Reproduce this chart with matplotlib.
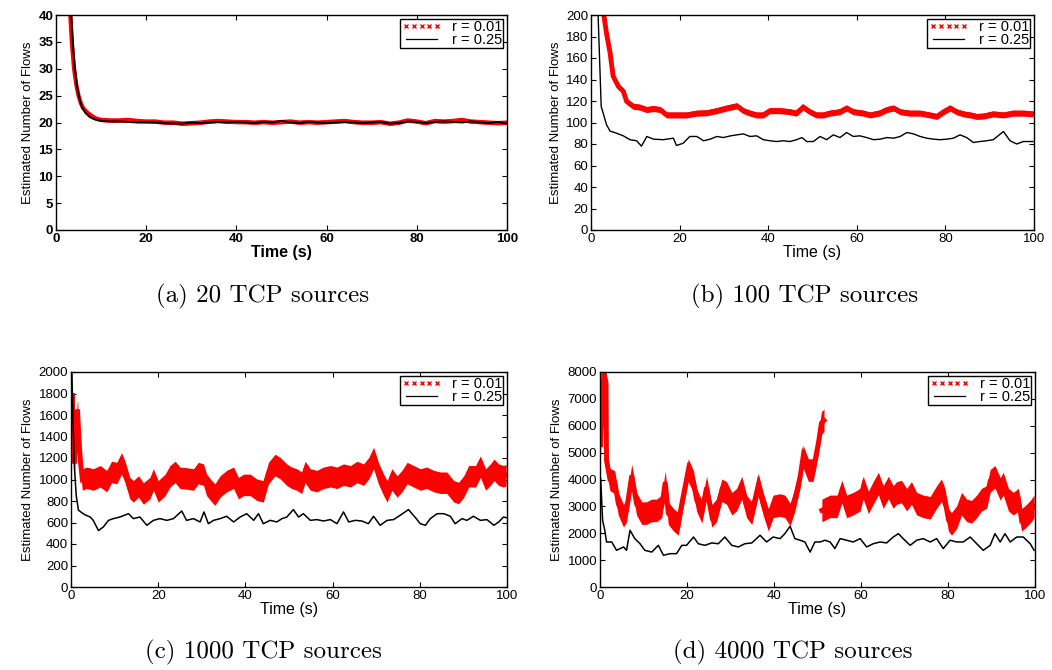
import matplotlib
matplotlib.use("Agg")
import matplotlib.pyplot as plt
import numpy as np
from matplotlib.lines import Line2D

# ---- (a) 20 TCP sources ----
A_RED_T = [3.2, 3.5, 4, 4.5, 5, 5.5, 6, 7, 8, 9, 10,
           12, 14, 16, 18, 20, 22, 24, 26, 28, 30, 32, 34, 36, 38, 40, 42, 44, 46, 48, 50,
           52, 54, 56, 58, 60, 62, 64, 66, 68, 70, 72, 74, 76, 78, 80, 82, 84, 86, 88, 90,
           92, 94, 96, 98, 100]
A_RED_Y = [39.5, 35, 30, 27, 25, 23.6, 22.7, 21.8, 21.2, 20.7, 20.5,
           20.4, 20.4, 20.5, 20.3, 20.2, 20.2, 20.0, 20.0, 19.8, 19.9, 20.0, 20.2, 20.3, 20.2, 20.1, 20.1, 20.0, 20.1, 20.0, 20.1,
           20.2, 20.0, 20.1, 20.0, 20.1, 20.2, 20.3, 20.1, 20.0, 20.0, 20.1, 19.8, 20.0, 20.4, 20.2, 19.9, 20.3, 20.2, 20.3, 20.5,
           20.2, 20.1, 20.0, 19.9, 20.0]
A_BLK_T = [3.4, 3.8, 4.2, 4.7, 5.2, 5.7, 6.5, 7.5, 8.5,
           10, 12, 14, 16, 18, 20, 22, 24, 26, 28, 30, 32, 34, 36, 38, 40, 42, 44, 46, 48, 50,
           52, 54, 56, 58, 60, 62, 64, 66, 68, 70, 72, 74, 76, 78, 80, 82, 84, 86, 88, 90,
           92, 94, 96, 98, 100]
A_BLK_Y = [40, 34, 30, 26.5, 24.5, 23, 21.8, 21.0, 20.6,
           20.3, 20.2, 20.2, 20.1, 20.0, 20.1, 20.0, 19.9, 19.8, 19.8, 20.0, 19.9, 20.0, 20.1, 20.0, 20.1, 20.0, 19.9, 20.1, 20.0, 20.3,
           20.0, 19.9, 20.1, 20.0, 19.9, 20.0, 20.1, 20.0, 19.9, 20.0, 20.1, 19.8, 19.9, 20.2, 20.1, 19.9, 20.1, 20.2, 20.1, 20.0,
           20.2, 20.0, 19.9, 20.1, 19.8]

# ---- (b) 100 TCP sources ----
B_RED_T = [2.9, 3.5, 4.3, 5.0, 6.2, 7.3, 8.05, 9.6, 11.0, 12.6, 14.1, 15.6, 17.1, 19.3, 21.6,
           23.9, 26.1, 28.4, 30.6, 32.9, 34.4, 35.9, 37.4, 38.9, 40.4, 42.7, 44.9, 46.4, 47.9, 49.4,
           50.9, 52.4, 53.9, 56.2, 57.7, 59.2, 61.5, 63.0, 65.3, 66.8, 68.3, 69.8, 72.0, 74.3, 76.5,
           78.1, 79.6, 81.1, 82.5, 84.1, 85.6, 87.1, 88.6, 90.8, 93.1, 95.3, 97.6, 99.8]
B_RED_Y = [200, 183, 165, 143, 133.5, 129, 119.6, 115, 114.3, 112, 113, 112, 107, 107, 107,
           108.7, 109, 111, 113.4, 115.5, 111, 108.7, 107, 107, 111, 111, 110, 108.7, 114.3, 110,
           107, 107, 108.7, 110, 113.4, 110, 108.7, 107, 109, 112, 113.4, 110, 108.7, 108.7, 107,
           105.6, 110, 113.4, 110, 108, 107, 105.6, 106, 108, 107, 108.7, 108.7, 108]
B_BLK_T = [1.6, 2.3, 3.5, 4.3, 5.8, 7.3, 8.8, 10.3, 11.4, 12.6, 14.1, 16.3, 18.6, 19.3, 20.8,
           22.3, 23.9, 25.4, 26.9, 28.4, 29.9, 31.4, 32.9, 34.4, 35.9, 37.4, 38.9, 40.4, 41.9, 43.4,
           44.9, 46.4, 47.6, 48.7, 50.2, 51.7, 53.2, 54.7, 56.2, 57.7, 59.2, 60.7, 62.2, 63.8, 65.3,
           66.8, 68.3, 69.8, 71.3, 72.8, 74.3, 75.8, 77.3, 78.8, 80.3, 81.8, 83.3, 84.8, 86.3, 87.8,
           89.3, 90.8, 93.1, 94.6, 96.1, 97.6, 99.8]
B_BLK_Y = [200, 115, 98, 92, 90, 87.6, 84, 83, 78, 87, 84.5, 84, 85.4, 78.6, 80.7,
           87, 87, 83, 84.5, 87, 86, 87.5, 88.5, 89.4, 87, 87.6, 84, 83, 82.3, 83,
           82.3, 84, 86, 82.3, 82.3, 87, 84, 88.5, 86, 90.7, 87, 87.6, 86, 84, 84.5,
           86, 85.4, 87, 90.7, 89.4, 87, 85.4, 84.5, 84, 84.5, 85.4, 88.5, 86, 81.4, 82.3,
           83, 84, 91.6, 83, 80, 82.3, 82.3]

# ---- (c) 1000 TCP sources ----
C_RED_T = [0.1, 0.3, 0.5, 0.8, 1.2, 1.5, 1.8, 2.2, 2.6, 3.6, 5.1, 6.7, 8.2, 9.3, 10.5,
           11.6, 12.4, 13.5, 14.3, 15.5, 16.6, 18.1, 18.9, 20.0, 21.6, 22.7, 23.9, 25.0, 26.5, 28.1,
           29.2, 30.4, 31.1, 32.3, 33.0, 34.2, 35.7, 37.3, 38.4, 39.6, 41.1, 42.6, 44.1, 45.3, 46.8,
           48.0, 49.5, 50.6, 51.8, 52.9, 53.7, 54.9, 56.4, 57.9, 59.5, 61.0, 62.5, 64.1, 65.6, 67.1,
           68.3, 69.4, 70.5, 71.7, 72.5, 73.6, 74.8, 75.9, 77.1, 78.6, 80.1, 81.6, 83.2, 84.7, 86.2,
           87.8, 88.9, 90.1, 91.2, 92.8, 93.9, 95.1, 96.2, 97.0, 98.1, 99.2, 99.8]
C_RED_Y = [1300, 1800, 1400, 1150, 1500, 1650, 1400, 1150, 1000, 1016, 1000, 1030, 985, 1070, 1060,
           1150, 1070, 920, 890, 935, 870, 920, 1000, 890, 950, 1030, 1070, 1016, 1010, 1000,
           1060, 1045, 950, 890, 860, 935, 985, 1016, 920, 950, 950, 905, 890, 1060, 1135,
           1105, 1045, 1016, 1000, 970, 1070, 1000, 985, 1016, 1030, 1016, 1045, 1030, 1070, 1045,
           1105, 1200, 1060, 950, 890, 1000, 935, 985, 1060, 1030, 1000, 1016, 985, 970, 970,
           890, 875, 935, 1030, 1030, 1120, 1000, 1045, 1090, 1045, 1030, 1040]
C_BLK_T = [0.2, 0.5, 0.8, 1.2, 1.7, 2.5, 3.3, 4.4, 5.1, 6.3, 7.4, 8.6, 9.7, 11.2, 13.2,
           14.3, 15.8, 17.4, 18.9, 20.4, 22.0, 23.5, 25.4, 26.5, 28.1, 29.6, 30.5, 31.5, 32.7, 34.2,
           35.7, 37.3, 38.8, 40.3, 41.9, 43.0, 44.1, 45.7, 47.2, 48.4, 49.5, 51.0, 52.2, 53.3, 54.9,
           56.4, 57.9, 59.5, 61.0, 62.5, 63.7, 65.2, 66.7, 68.2, 69.4, 70.9, 72.5, 74.0, 75.5, 77.4,
           79.0, 80.1, 81.3, 82.4, 84.0, 85.5, 87.0, 88.1, 89.7, 90.8, 92.3, 93.9, 95.4, 97.0, 98.1,
           99.2, 99.8]
C_BLK_Y = [2000, 1500, 1100, 850, 716, 690, 670, 651, 620, 525, 558, 620, 636, 651, 682,
           636, 651, 574, 620, 636, 620, 636, 707, 620, 636, 605, 698, 589, 620, 636,
           658, 605, 651, 682, 620, 682, 589, 620, 605, 636, 651, 720, 651, 682, 620,
           627, 614, 627, 589, 698, 605, 620, 614, 589, 658, 574, 620, 627, 667, 720,
           645, 589, 574, 636, 682, 682, 658, 589, 636, 620, 658, 620, 627, 574, 605,
           651, 645]

# ---- (d) 4000 TCP sources (red trace restarts near t = 51 s) ----
D_RED1_T = [0.15, 0.6, 0.9, 1.4, 1.5, 2.3, 3.4, 4.2, 5.4, 6.1, 7.3, 8.4, 9.6, 10.7, 11.9,
            13.0, 14.2, 15.0, 15.7, 16.9, 18.0, 18.8, 20.3, 21.5, 22.2, 23.4, 24.5, 25.7, 26.8, 28.0,
            29.1, 30.3, 31.4, 32.6, 33.7, 34.9, 36.4, 37.5, 38.7, 39.8, 41.4, 42.5, 43.7, 44.8, 46.0,
            46.7, 47.9, 49.0, 50.2, 50.9, 51.5]
D_RED1_Y = [5300, 7200, 7950, 7600, 4700, 4000, 3900, 3100, 2650, 2850, 4150, 3100, 2750, 2750, 2850,
            2850, 3000, 3900, 2750, 2500, 2350, 3100, 4350, 3900, 3250, 2800, 3700, 2650, 2850, 3600,
            3500, 3100, 3250, 3700, 3000, 2750, 3800, 3100, 2500, 3000, 3050, 3000, 2700, 3250, 4100,
            4850, 4350, 4350, 5350, 6100, 6200]
D_RED2_T = [51.0, 52.9, 54.5, 55.6, 56.7, 58.2, 59.8, 60.5, 61.7, 62.8, 64.0, 65.1, 66.3, 67.4, 68.2,
            69.3, 70.5, 71.6, 72.8, 74.3, 75.9, 77.4, 78.5, 79.3, 80.1, 80.8, 82.0, 83.1, 84.3, 85.4,
            86.6, 87.7, 88.9, 89.7, 90.8, 92.0, 92.7, 93.9, 95.0, 96.2, 96.9, 97.7, 98.9, 99.8]
D_RED2_Y = [2850, 3000, 3000, 3550, 3000, 3100, 3250, 3700, 3150, 3500, 3850, 3350, 3700, 3350, 3500,
            3550, 3250, 3500, 3100, 3000, 2950, 3350, 3600, 3250, 2500, 2350, 2600, 3100, 2850, 2800,
            3000, 3250, 3350, 3950, 4100, 3650, 3850, 3250, 3100, 3250, 2500, 2600, 2800, 3000]
D_BLK_T = [0.15, 0.6, 1.1, 1.5, 2.7, 3.8, 5.4, 6.1, 6.9, 8.0, 9.2, 10.3, 11.9, 13.4, 14.6,
           16.1, 17.6, 18.8, 19.9, 21.5, 22.6, 24.1, 25.7, 27.2, 28.7, 30.3, 31.8, 33.3, 34.9, 36.8,
           38.3, 39.8, 41.4, 42.5, 43.7, 44.8, 46.0, 47.1, 48.3, 49.4, 50.6, 51.7, 52.9, 54.0, 55.2,
           56.7, 58.2, 59.8, 61.3, 62.8, 64.4, 65.9, 67.4, 68.6, 69.7, 71.3, 72.8, 74.3, 75.9, 77.4,
           78.9, 80.5, 82.0, 83.5, 85.1, 86.6, 88.1, 89.7, 90.8, 92.0, 93.1, 94.3, 95.8, 97.3, 98.9,
           99.8]
D_BLK_Y = [4030, 2480, 2110, 1675, 1675, 1365, 1490, 1365, 2110, 1800, 1610, 1365, 1300, 1550, 1180,
           1240, 1240, 1550, 1550, 1860, 1610, 1550, 1640, 1610, 1860, 1550, 1490, 1610, 1640, 1925,
           1675, 1860, 1800, 1985, 2260, 1800, 1740, 1675, 1300, 1675, 1675, 1740, 1675, 1430, 1800,
           1740, 1675, 1800, 1490, 1610, 1675, 1640, 1860, 1985, 1800, 1550, 1740, 1800, 1675, 1800,
           1430, 1740, 1675, 1675, 1860, 1610, 1365, 1550, 1985, 1675, 1985, 1675, 1860, 1860, 1610,
           1365]

CAPTIONS = ["(a) 20 TCP sources", "(b) 100 TCP sources",
            "(c) 1000 TCP sources", "(d) 4000 TCP sources"]
LABELS = ["r = 0.01", "r = 0.25"]

RED = "#ff0000"
SANS = ["Liberation Sans", "DejaVu Sans"]


def draw_panel(ax, red_segs, blk, ymax, ystep, red_hw, red_lw, blk_lw, bold):
    weight = "bold" if bold else "normal"
    # red estimate: a noisy band of x markers in the original -> band + stroke
    for t, y in red_segs:
        y = np.asarray(y, dtype=float)
        if red_hw > 0:
            ax.fill_between(t, y - red_hw, y + red_hw, color=RED, linewidth=0, zorder=2)
        ax.plot(t, y, color=RED, linewidth=red_lw, solid_joinstyle="miter", zorder=2)
    ax.plot(blk[0], blk[1], color="black", linewidth=blk_lw, zorder=3)

    ax.set_xlim(0, 100)
    ax.set_ylim(0, ymax)
    ax.set_xticks(range(0, 101, 20))
    ax.set_yticks(range(0, ymax + 1, ystep))
    ax.tick_params(direction="in", top=True, right=True, length=3.5, width=0.8,
                   labelsize=9.5, pad=2)
    for lab in ax.get_xticklabels() + ax.get_yticklabels():
        lab.set_family(SANS)
        lab.set_fontweight(weight)
    for sp in ax.spines.values():
        sp.set_linewidth(1.0)

    ax.set_xlabel("Time (s)", family=SANS, fontsize=11.5, fontweight=weight, labelpad=0)
    ax.set_ylabel("Estimated Number of Flows", family=SANS, fontsize=9.5, labelpad=3)

    handles = [
        Line2D([], [], color=RED, marker="x", linestyle="None", markersize=3.4,
               markeredgewidth=1.0),
        Line2D([], [], color="black", linewidth=0.9),
    ]
    leg = ax.legend(handles, LABELS, loc="upper right", numpoints=5,
                    handlelength=2.7, handletextpad=0.7, borderpad=0.1,
                    labelspacing=-0.1, borderaxespad=0.25, fancybox=False,
                    framealpha=1, prop={"family": SANS, "size": 10.5})
    leg.get_frame().set_edgecolor("black")
    leg.get_frame().set_linewidth(1.0)


fig = plt.figure(figsize=(10.52, 6.70), dpi=100)
W, H = 1052, 670

# axes boxes in pixels: left, top, right, bottom
boxes = [(56, 15, 507, 230), (591, 15, 1034, 230),
         (71, 372, 507, 587), (600, 372, 1035, 587)]
axes = []
for l, t, r, b in boxes:
    axes.append(fig.add_axes([l / W, 1 - b / H, (r - l) / W, (b - t) / H]))

draw_panel(axes[0], [(A_RED_T, A_RED_Y)], (A_BLK_T, A_BLK_Y), 40, 5, 0.35, 3.0, 1.4, True)
draw_panel(axes[1], [(B_RED_T, B_RED_Y)], (B_BLK_T, B_BLK_Y), 200, 20, 2.8, 3.5, 1.0, False)
draw_panel(axes[2], [(C_RED_T, C_RED_Y)], (C_BLK_T, C_BLK_Y), 2000, 200, 100, 3.5, 1.1, False)
draw_panel(axes[3], [(D_RED1_T, D_RED1_Y), (D_RED2_T, D_RED2_Y)], (D_BLK_T, D_BLK_Y),
           8000, 1000, 420, 3.5, 1.1, False)

# sub-figure captions
cap_pos = [(263, 296), (805, 296), (263, 652), (793, 652)]
for (cx, cy), txt in zip(cap_pos, CAPTIONS):
    fig.text(cx / W, 1 - cy / H, txt, ha="center", va="center",
             family=["cmr10", "DejaVu Serif"], fontsize=18)

fig.savefig("out.png", dpi=100)
